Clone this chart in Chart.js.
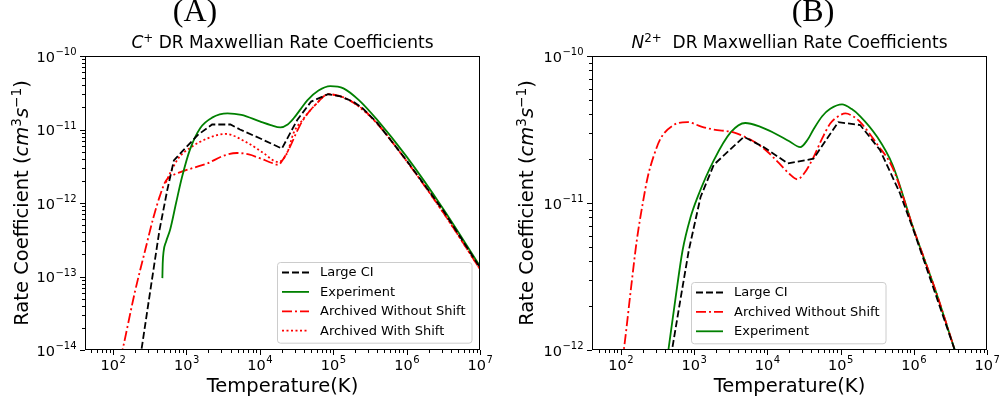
<!DOCTYPE html>
<html>
<head>
<meta charset="utf-8">
<script src="https://cdn.jsdelivr.net/npm/chart.js@4.4.1/dist/chart.umd.min.js"></script>
<style>
  body { margin: 0; background: #fff; }
  .panel { position: absolute; top: 0; height: 404px; }
</style>
</head>
<body>
<div class="panel" style="left:0;width:500px"><canvas id="chartC"></canvas></div>
<div class="panel" style="left:500px;width:501px"><canvas id="chartN"></canvas></div>
<script>
    // C+ panel: temperature (K) and rate coefficient (cm^3 s^-1)
    const cLargeCiT = [224, 316, 430, 550, 676, 912, 1445, 2239, 3981, 5370, 1.0e4, 2.0e4, 3.24e4, 5.01e4, 8.51e4, 1.26e5, 1.86e5, 2.51e5, 3.98e5, 1.0e6, 3.16e6, 1.0e7];
    const cLargeCiRate = [5.6e-15, 5.6e-14, 4.27e-13, 1.51e-12, 3.8e-12, 5.25e-12, 8.5e-12, 1.17e-11, 1.17e-11, 1.0e-11, 7.6e-12, 5.5e-12, 1.35e-11, 2.4e-11, 3.02e-11, 2.82e-11, 2.4e-11, 1.95e-11, 1.23e-11, 3.8e-12, 7.9e-13, 1.32e-13];

    const cExpT = [471, 476, 490, 530, 603, 724, 871, 1122, 1549, 2239, 3631, 5623, 1.0e4, 1.41e4, 1.91e4, 2.4e4, 2.88e4, 3.63e4, 4.47e4, 6.31e4, 9.12e4, 1.38e5, 2.24e5, 3.98e5, 1.0e6, 3.16e6, 1.0e7];
    const cExpRate = [9.5e-14, 1.5e-13, 2.2e-13, 3.0e-13, 4.4e-13, 1.0e-12, 2.24e-12, 5.37e-12, 1.05e-11, 1.45e-11, 1.66e-11, 1.58e-11, 1.29e-11, 1.15e-11, 1.07e-11, 1.17e-11, 1.41e-11, 1.91e-11, 2.51e-11, 3.39e-11, 3.89e-11, 3.63e-11, 2.51e-11, 1.35e-11, 4.27e-12, 8.3e-13, 1.38e-13];

    const cNoShiftT = [112, 135, 200, 275, 355, 437, 525, 631, 832, 1259, 1950, 3162, 4898, 7079, 1.0e4, 1.51e4, 1.78e4, 2.09e4, 2.57e4, 3.16e4, 3.89e4, 6.03e4, 8.51e4, 1.26e5, 1.86e5, 2.51e5, 3.98e5, 1.0e6, 3.16e6, 1.0e7];
    const cNoShiftRate = [4.47e-15, 1.0e-14, 6.3e-14, 2.29e-13, 6.3e-13, 1.26e-12, 2.0e-12, 2.34e-12, 2.63e-12, 3.02e-12, 3.47e-12, 4.37e-12, 4.79e-12, 4.57e-12, 4.07e-12, 3.47e-12, 3.31e-12, 3.98e-12, 5.75e-12, 9.1e-12, 1.35e-11, 2.29e-11, 3.02e-11, 2.82e-11, 2.34e-11, 1.91e-11, 1.2e-11, 3.72e-12, 7.4e-13, 1.26e-13];

    const cShiftT = [525, 631, 794, 1122, 1950, 3388, 6761, 1.12e4, 1.74e4, 2.0e4, 2.4e4, 2.88e4, 3.89e4, 6.03e4, 8.51e4, 1.26e5, 1.86e5, 3.98e5, 1.0e6, 3.16e6, 1.0e7];
    const cShiftRate = [1.9e-12, 2.82e-12, 4.17e-12, 5.62e-12, 7.59e-12, 8.71e-12, 6.61e-12, 4.79e-12, 3.63e-12, 3.8e-12, 5.0e-12, 8.9e-12, 1.38e-11, 2.29e-11, 3.02e-11, 2.82e-11, 2.34e-11, 1.2e-11, 3.72e-12, 7.4e-13, 1.26e-13];

    // N2+ panel
    const nLargeCiT = [437, 501, 661, 851, 1230, 1862, 4786, 8913, 1.91e4, 4.27e4, 9.33e4, 1.86e5, 3.47e5, 6.46e5, 1.0e6, 3.63e6, 4.47e6];
    const nLargeCiRate = [6.6e-13, 1.0e-12, 2.29e-12, 4.79e-12, 1.1e-11, 1.82e-11, 2.82e-11, 2.4e-11, 1.86e-11, 2.0e-11, 3.55e-11, 3.39e-11, 2.29e-11, 1.17e-11, 6.46e-12, 1.0e-12, 7.1e-13];

    const nNoShiftT = [95, 110, 138, 166, 200, 234, 282, 351, 525, 813, 1259, 1862, 3467, 6457, 1.0e4, 1.38e4, 2.0e4, 2.57e4, 3.16e4, 4.27e4, 5.62e4, 7.24e4, 9.33e4, 1.17e5, 1.48e5, 1.86e5, 3.16e5, 5.13e5, 1.0e6, 2.0e6, 3.63e6, 4.47e6];
    const nNoShiftRate = [6.3e-13, 1.0e-12, 2.63e-12, 5.62e-12, 1.0e-11, 1.51e-11, 2.09e-11, 2.75e-11, 3.39e-11, 3.55e-11, 3.31e-11, 3.16e-11, 3.02e-11, 2.63e-11, 2.24e-11, 1.91e-11, 1.58e-11, 1.45e-11, 1.58e-11, 2.04e-11, 2.75e-11, 3.47e-11, 3.89e-11, 4.07e-11, 3.89e-11, 3.55e-11, 2.51e-11, 1.74e-11, 6.6e-12, 2.51e-12, 1.0e-12, 7.2e-13];

    const nExpT = [398, 447, 562, 700, 891, 1122, 1862, 3162, 5012, 7943, 1.2e4, 2.0e4, 2.82e4, 3.55e4, 4.27e4, 5.62e4, 7.24e4, 1.05e5, 1.41e5, 1.86e5, 3.16e5, 5.13e5, 1.0e6, 2.0e6, 3.63e6, 4.47e6];
    const nExpRate = [6.6e-13, 1.0e-12, 2.29e-12, 4.79e-12, 7.9e-12, 1.1e-11, 1.95e-11, 3.02e-11, 3.5e-11, 3.31e-11, 3.02e-11, 2.63e-11, 2.4e-11, 2.69e-11, 3.16e-11, 3.89e-11, 4.37e-11, 4.68e-11, 4.37e-11, 3.89e-11, 2.82e-11, 1.82e-11, 6.6e-12, 2.51e-12, 1.0e-12, 7.4e-13];

    // axis ticks (powers of ten)
    const xTickExponents = [2, 3, 4, 5, 6, 7];
    const cYTickExponents = [-14, -13, -12, -11, -10];
    const nYTickExponents = [-12, -11, -10];

    const FONT = '"DejaVu Sans", sans-serif';
    const MINUS = '\u2212';

    function fontFor(size, italic) {
        return (italic ? 'italic ' : '') + size + 'px ' + FONT;
    }

    // draw a run list like [{t:'cm', it:true}, {t:'3', sup:true}] as one line
    function drawRich(ctx, runs, x, y, size, align) {
        const supSize = size * 0.7;
        const raise = size * 0.38;
        let total = 0;
        const parts = runs.map(r => {
            const f = fontFor(r.sup ? supSize : size, r.it);
            ctx.font = f;
            const w = ctx.measureText(r.t).width;
            total += w;
            return { r, f, w };
        });
        let cx = align === 'center' ? x - total / 2 : (align === 'right' ? x - total : x);
        ctx.textAlign = 'left';
        ctx.textBaseline = 'alphabetic';
        parts.forEach(p => {
            ctx.font = p.f;
            ctx.fillText(p.r.t, cx, p.r.sup ? y - raise : y);
            cx += p.w;
        });
    }

    // "10" with a raised exponent, as used on both axes
    function drawPow(ctx, exp, x, y, align) {
        const base = '10';
        const sup = exp < 0 ? MINUS + Math.abs(exp) : String(exp);
        ctx.font = fontFor(14.5);
        const wb = ctx.measureText(base).width;
        ctx.font = fontFor(10);
        const ws = ctx.measureText(sup).width;
        const total = wb + ws;
        let cx = align === 'center' ? x - total / 2 : x - total;
        ctx.textAlign = 'left';
        ctx.textBaseline = 'alphabetic';
        ctx.font = fontFor(14.5);
        ctx.fillText(base, cx, y);
        ctx.font = fontFor(10);
        ctx.fillText(sup, cx + wb + 0.5, y - 6.5);
    }

    const decorPlugin = {
        id: 'decor',
        afterDraw(chart, args, o) {
            const ctx = chart.ctx;
            const a = chart.chartArea;
            const xs = chart.scales.x;
            const ys = chart.scales.y;
            ctx.save();
            ctx.fillStyle = '#000';
            ctx.strokeStyle = '#000';
            ctx.setLineDash([]);

            // frame
            ctx.lineWidth = 1;
            ctx.strokeRect(a.left + 0.5, a.top + 0.5, a.right - a.left - 1, a.bottom - a.top - 1);

            // x ticks, major and minor
            ctx.beginPath();
            for (let e = 1; e <= 7; e++) {
                for (let k = 1; k <= 9; k++) {
                    const v = k * Math.pow(10, e);
                    if (v < xs.min || v > xs.max) continue;
                    const px = Math.round(xs.getPixelForValue(v)) + 0.5;
                    const len = k === 1 ? 5 : 3;
                    ctx.moveTo(px, a.bottom);
                    ctx.lineTo(px, a.bottom + len);
                }
            }
            // y ticks
            const yExps = o.yExponents;
            for (let e = yExps[0]; e <= yExps[yExps.length - 1]; e++) {
                for (let k = 1; k <= 9; k++) {
                    const v = k * Math.pow(10, e);
                    if (v < ys.min * 0.999 || v > ys.max * 1.001) continue;
                    const py = Math.round(ys.getPixelForValue(v)) + 0.5;
                    const len = k === 1 ? 5 : 3;
                    ctx.moveTo(a.left, py);
                    ctx.lineTo(a.left - len, py);
                }
            }
            ctx.stroke();

            // tick labels
            xTickExponents.forEach(e => {
                const px = xs.getPixelForValue(Math.pow(10, e));
                drawPow(ctx, e, px, a.bottom + 19.5, 'center');
            });
            yExps.forEach(e => {
                const py = ys.getPixelForValue(Math.pow(10, e));
                drawPow(ctx, e, a.left - 9, py + 5.5, 'right');
            });

            const midX = (a.left + a.right) / 2;
            const midY = (a.top + a.bottom) / 2;

            // panel letter
            ctx.font = '32px "Liberation Serif", "Times New Roman", serif';
            ctx.textAlign = 'center';
            ctx.textBaseline = 'alphabetic';
            ctx.fillText(o.panel, o.panelX, 21);

            // title and axis titles
            drawRich(ctx, o.title, midX, 48, 17, 'center');
            drawRich(ctx, [{ t: 'Temperature(K)' }], midX, 392, 19.5, 'center');
            ctx.save();
            ctx.translate(o.yLabelX, midY);
            ctx.rotate(-Math.PI / 2);
            drawRich(ctx, [
                { t: 'Rate Coefficient (' }, { t: 'cm', it: true }, { t: '3', sup: true },
                { t: 's', it: true }, { t: MINUS + '1', sup: true }, { t: ')' }
            ], 0, 0, 19.5, 'center');
            ctx.restore();

            // legend box
            const ds = chart.data.datasets;
            const lg = o.legend;
            ctx.font = fontFor(13);
            const textW = Math.max(...ds.map(d => ctx.measureText(d.label).width));
            const w = 43 + textW + 6;
            const rowH = 19.4;
            const h = 10.5 + (ds.length - 1) * rowH + 12;
            ctx.beginPath();
            ctx.roundRect(lg.left + 0.5, lg.top + 0.5, w, h, 3);
            ctx.fillStyle = 'rgba(255,255,255,0.8)';
            ctx.fill();
            ctx.strokeStyle = '#cccccc';
            ctx.lineWidth = 1;
            ctx.stroke();
            ds.forEach((d, i) => {
                const cy = lg.top + 10.5 + i * rowH;
                ctx.beginPath();
                ctx.setLineDash(d.borderDash || []);
                ctx.strokeStyle = d.borderColor;
                ctx.lineWidth = d.borderWidth;
                ctx.moveTo(lg.left + 5, cy);
                ctx.lineTo(lg.left + 32, cy);
                ctx.stroke();
                ctx.setLineDash([]);
                ctx.fillStyle = '#000';
                ctx.font = fontFor(13);
                ctx.textAlign = 'left';
                ctx.textBaseline = 'middle';
                ctx.fillText(d.label, lg.left + 43, cy + 0.5);
            });
            ctx.restore();
        }
    };

    const DASHED = [7, 3];
    const DASH_DOT = [10, 3, 2, 3];
    const DOTTED = [2, 2.5];

    function series(label, temps, rates, color, dash, smooth) {
        return {
            label: label,
            data: temps.map((t, i) => ({ x: t, y: rates[i] })),
            borderColor: color,
            borderDash: dash,
            borderWidth: 1.8,
            pointRadius: 0,
            fill: false,
            tension: 0,
            cubicInterpolationMode: smooth ? 'monotone' : 'default'
        };
    }

    function makeChart(id, datasets, xMin, yMin, padding, decor) {
        return new Chart(document.getElementById(id), {
            type: 'line',
            data: { datasets: datasets },
            options: {
                responsive: true,
                maintainAspectRatio: false,
                animation: false,
                layout: { padding: padding },
                scales: {
                    x: { type: 'logarithmic', min: xMin, max: 1e7, display: false },
                    y: { type: 'logarithmic', min: yMin, max: 1e-10, display: false }
                },
                plugins: {
                    legend: { display: false },
                    tooltip: { enabled: false },
                    decor: decor
                }
            },
            plugins: [decorPlugin]
        });
    }

    makeChart('chartC', [
        series('Large CI', cLargeCiT, cLargeCiRate, '#000000', DASHED, false),
        series('Experiment', cExpT, cExpRate, '#008000', [], true),
        series('Archived Without Shift', cNoShiftT, cNoShiftRate, '#ff0000', DASH_DOT, true),
        series('Archived With Shift', cShiftT, cShiftRate, '#ff0000', DOTTED, true)
    ], 41.6, 1e-14, { left: 85, right: 20, top: 56, bottom: 54 }, {
        panel: '(A)', panelX: 195, yLabelX: 28,
        title: [{ t: 'C', it: true }, { t: '+', sup: true }, { t: ' DR Maxwellian Rate Coefficients' }],
        yExponents: cYTickExponents,
        legend: { left: 277, top: 262 }
    });

    makeChart('chartN', [
        series('Large CI', nLargeCiT, nLargeCiRate, '#000000', DASHED, false),
        series('Archived Without Shift', nNoShiftT, nNoShiftRate, '#ff0000', DASH_DOT, true),
        series('Experiment', nExpT, nExpRate, '#008000', [], true)
    ], 40.5, 1e-12, { left: 92, right: 14, top: 56, bottom: 54 }, {
        panel: '(B)', panelX: 313, yLabelX: 33,
        title: [{ t: 'N', it: true }, { t: '2+', sup: true }, { t: '  DR Maxwellian Rate Coefficients' }],
        yExponents: nYTickExponents,
        legend: { left: 191, top: 282 }
    });
</script>
</body>
</html>
